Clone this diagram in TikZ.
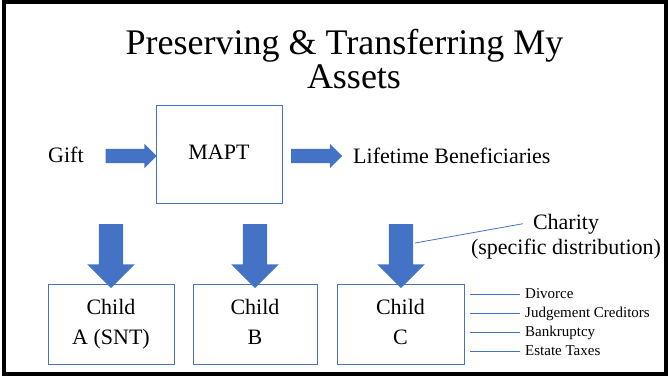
\documentclass[tikz,border=0pt]{standalone}
\usepackage{fontspec}
\setmainfont{Liberation Serif}
\usetikzlibrary{shapes.arrows}
\definecolor{oblue}{HTML}{4472C4}
\begin{document}
\begin{tikzpicture}[x=1pt,y=-1pt,
  harrow/.style={single arrow, fill=oblue, draw=none, inner xsep=0pt, inner ysep=7pt, minimum height=51pt, minimum width=24pt, single arrow head extend=5pt, single arrow tip angle=90},
  varrow/.style={single arrow, fill=oblue, draw=none, inner xsep=0pt, inner ysep=12pt, minimum height=64pt, minimum width=47pt, single arrow head extend=11.5pt, single arrow tip angle=90, rotate=-90},
  box/.style={draw=oblue, line width=0.9pt, inner sep=0pt, align=center, font=\rmfamily\fontsize{22}{30}\selectfont},
  lbl/.style={font=\rmfamily\fontsize{22}{26}\selectfont, inner sep=0pt},
  small/.style={font=\rmfamily\fontsize{15}{18}\selectfont, inner sep=0pt, anchor=base west},
  thinline/.style={draw=oblue, line width=0.8pt}]
\useasboundingbox (0,0) rectangle (669,376);
\draw[line width=4pt] (4,2) rectangle (666,374);
% title
\node[font=\rmfamily\fontsize{36}{40}\selectfont, inner sep=0pt, anchor=base] (t1) at (344.5,54) {Preserving \& Transferring My};
\node[font=\rmfamily\fontsize{36}{40}\selectfont, inner sep=0pt, anchor=base] (t2) at (354,88) {Assets};
% top row
\node[lbl, anchor=base west] (gift) at (48,162) {Gift};
\node[box, minimum width=126pt, minimum height=98pt] (mapt) at (219,154) {MAPT\vphantom{()}};
\node[lbl, anchor=base west] (life) at (353,163) {Lifetime Beneficiaries};
\node[harrow] (a1) at (127.5,156) {};
\node[harrow] (a2) at (313,156) {};
% down arrows
\node[varrow] (dA) at (111,250) {};
\node[varrow] (dB) at (255,250) {};
\node[varrow] (dC) at (401,250) {};
% children
\node[box, minimum width=126pt, minimum height=80pt] (cA) at (111,324) {Child\\A (SNT)};
\node[box, minimum width=124pt, minimum height=80pt] (cB) at (255,324) {Child\\B\vphantom{()}};
\node[box, minimum width=127pt, minimum height=80pt] (cC) at (400.5,324) {Child\\C\vphantom{()}};
% charity
\node[lbl, anchor=base] (charity) at (566,229) {Charity};
\node[lbl, anchor=base] (chardist) at (566,254) {(specific distribution)};
\coordinate (cs) at (415,243);
\draw[thinline] (cs) -- ([xshift=-10pt]charity.west);
% side labels
\node[small] (div) at (525,298) {Divorce};
\node[small] (jud) at (525,317) {Judgement Creditors};
\node[small] (bank) at (525,336) {Bankruptcy};
\node[small] (est) at (525,355) {Estate Taxes};
\coordinate (s1) at (470,294);
\coordinate (s2) at (470,313);
\coordinate (s3) at (470,332);
\coordinate (s4) at (470,351);
\draw[thinline] (s1) -- ([xshift=-5pt]s1 -| div.west);
\draw[thinline] (s2) -- ([xshift=-5pt]s2 -| jud.west);
\draw[thinline] (s3) -- ([xshift=-5pt]s3 -| bank.west);
\draw[thinline] (s4) -- ([xshift=-5pt]s4 -| est.west);
\end{tikzpicture}
\end{document}
